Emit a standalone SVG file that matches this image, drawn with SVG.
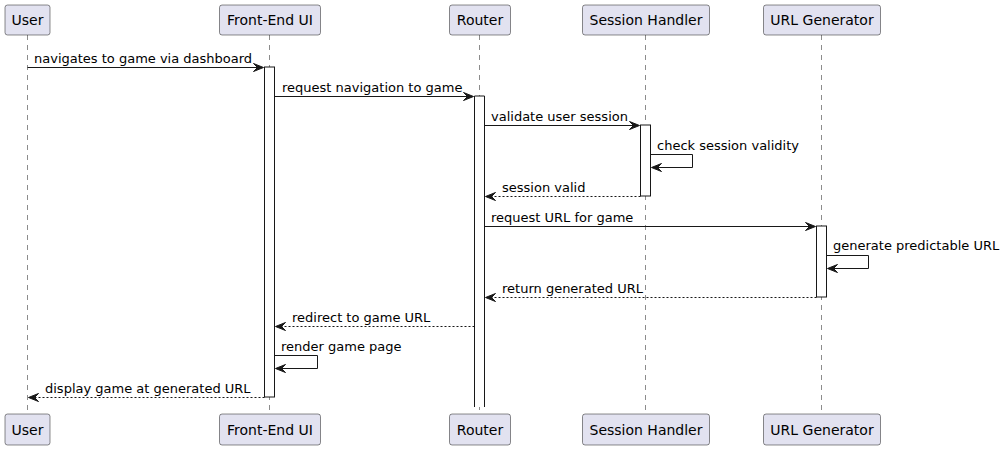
<svg xmlns="http://www.w3.org/2000/svg" width="1006" height="450" viewBox="0 0 1006 450">
<defs>
<style>
.box{fill:#E2E2F0;stroke:#181818;stroke-width:0.5}
.pt{font-family:"DejaVu Sans",sans-serif;font-size:14px;fill:#000;text-anchor:middle}
.mt{font-family:"DejaVu Sans",sans-serif;font-size:13px;fill:#000}
.life{stroke:#181818;stroke-width:0.5;stroke-dasharray:5,5;fill:none}
.act{fill:#FFFFFF;stroke:#181818;stroke-width:1}
.msg{stroke:#181818;stroke-width:1;fill:none}
.ret{stroke:#181818;stroke-width:1;fill:none;stroke-dasharray:2,2}
.ah{fill:#181818;stroke:#181818;stroke-width:1}
</style>
</defs>
<rect width="1006" height="450" fill="#FFFFFF"/>
<g id="lifelines">
<line class="life" x1="27.5" y1="35" x2="27.5" y2="414"/>
<line class="life" x1="269.5" y1="35" x2="269.5" y2="414"/>
<line class="life" x1="479.5" y1="35" x2="479.5" y2="414"/>
<line class="life" x1="645.5" y1="35" x2="645.5" y2="414"/>
<line class="life" x1="821.5" y1="35" x2="821.5" y2="414"/>
</g>
<g id="activations">
<rect class="act" x="264.5" y="67" width="10" height="330"/>
<rect x="474.5" y="96" width="10" height="311" fill="#FFFFFF"/>
<path class="msg" d="M474.5,407 V96 H484.5 V407"/>
<rect class="act" x="640.5" y="125" width="10" height="71"/>
<rect class="act" x="816.5" y="226" width="10" height="71"/>
</g>
<g id="User">
<rect class="box" x="5" y="5" width="45" height="30" rx="2.5"/>
<text class="pt" x="27.5" y="25">User</text>
<rect class="box" x="5" y="414" width="45" height="31" rx="2.5"/>
<text class="pt" x="27.5" y="434.5">User</text>
</g>
<g id="FrontEndUI">
<rect class="box" x="219.5" y="5" width="101" height="30" rx="2.5"/>
<text class="pt" x="270" y="25">Front-End UI</text>
<rect class="box" x="219.5" y="414" width="101" height="31" rx="2.5"/>
<text class="pt" x="270" y="434.5">Front-End UI</text>
</g>
<g id="Router">
<rect class="box" x="449.5" y="5" width="61" height="30" rx="2.5"/>
<text class="pt" x="480" y="25">Router</text>
<rect class="box" x="449.5" y="414" width="61" height="31" rx="2.5"/>
<text class="pt" x="480" y="434.5">Router</text>
</g>
<g id="SessionHandler">
<rect class="box" x="582.5" y="5" width="127" height="30" rx="2.5"/>
<text class="pt" x="646" y="25">Session Handler</text>
<rect class="box" x="582.5" y="414" width="127" height="31" rx="2.5"/>
<text class="pt" x="646" y="434.5">Session Handler</text>
</g>
<g id="URLGenerator">
<rect class="box" x="763.5" y="5" width="117" height="30" rx="2.5"/>
<text class="pt" x="822" y="25">URL Generator</text>
<rect class="box" x="763.5" y="414" width="117" height="31" rx="2.5"/>
<text class="pt" x="822" y="434.5">URL Generator</text>
</g>
<g id="connectors">
<line class="msg" x1="27.5" y1="67.5" x2="262" y2="67.5"/>
<polygon class="ah" points="253.5,63.5 263.5,67.5 253.5,71.5 257.5,67.5"/>
<text class="mt" x="34" y="63">navigates to game via dashboard</text>

<line class="msg" x1="274.5" y1="96.5" x2="472" y2="96.5"/>
<polygon class="ah" points="463.5,92.5 473.5,96.5 463.5,100.5 467.5,96.5"/>
<text class="mt" x="282" y="92">request navigation to game</text>

<line class="msg" x1="484.5" y1="125.5" x2="638" y2="125.5"/>
<polygon class="ah" points="629.5,121.5 639.5,125.5 629.5,129.5 633.5,125.5"/>
<text class="mt" x="491" y="121">validate user session</text>

<polyline class="msg" points="650.5,154.5 692.5,154.5 692.5,167.5 652,167.5"/>
<polygon class="ah" points="661.5,163.5 651.5,167.5 661.5,171.5 657.5,167.5"/>
<text class="mt" x="657" y="150">check session validity</text>

<line class="ret" x1="640.5" y1="196.5" x2="486" y2="196.5"/>
<polygon class="ah" points="495.5,192.5 485.5,196.5 495.5,200.5 491.5,196.5"/>
<text class="mt" x="502" y="192">session valid</text>

<line class="msg" x1="484.5" y1="226.5" x2="814" y2="226.5"/>
<polygon class="ah" points="805.5,222.5 815.5,226.5 805.5,230.5 809.5,226.5"/>
<text class="mt" x="491" y="222">request URL for game</text>

<polyline class="msg" points="826.5,255.5 868.5,255.5 868.5,268.5 828,268.5"/>
<polygon class="ah" points="837.5,264.5 827.5,268.5 837.5,272.5 833.5,268.5"/>
<text class="mt" x="833" y="250">generate predictable URL</text>

<line class="ret" x1="816.5" y1="297.5" x2="486" y2="297.5"/>
<polygon class="ah" points="495.5,293.5 485.5,297.5 495.5,301.5 491.5,297.5"/>
<text class="mt" x="502" y="293">return generated URL</text>

<line class="ret" x1="474.5" y1="326.5" x2="276" y2="326.5"/>
<polygon class="ah" points="285.5,322.5 275.5,326.5 285.5,330.5 281.5,326.5"/>
<text class="mt" x="292" y="322">redirect to game URL</text>

<polyline class="msg" points="274.5,355.5 317.5,355.5 317.5,368.5 276,368.5"/>
<polygon class="ah" points="285.5,364.5 275.5,368.5 285.5,372.5 281.5,368.5"/>
<text class="mt" x="281" y="351">render game page</text>

<line class="ret" x1="264.5" y1="397.5" x2="29" y2="397.5"/>
<polygon class="ah" points="38.5,393.5 28.5,397.5 38.5,401.5 34.5,397.5"/>
<text class="mt" x="45" y="393">display game at generated URL</text>
</g>
</svg>
